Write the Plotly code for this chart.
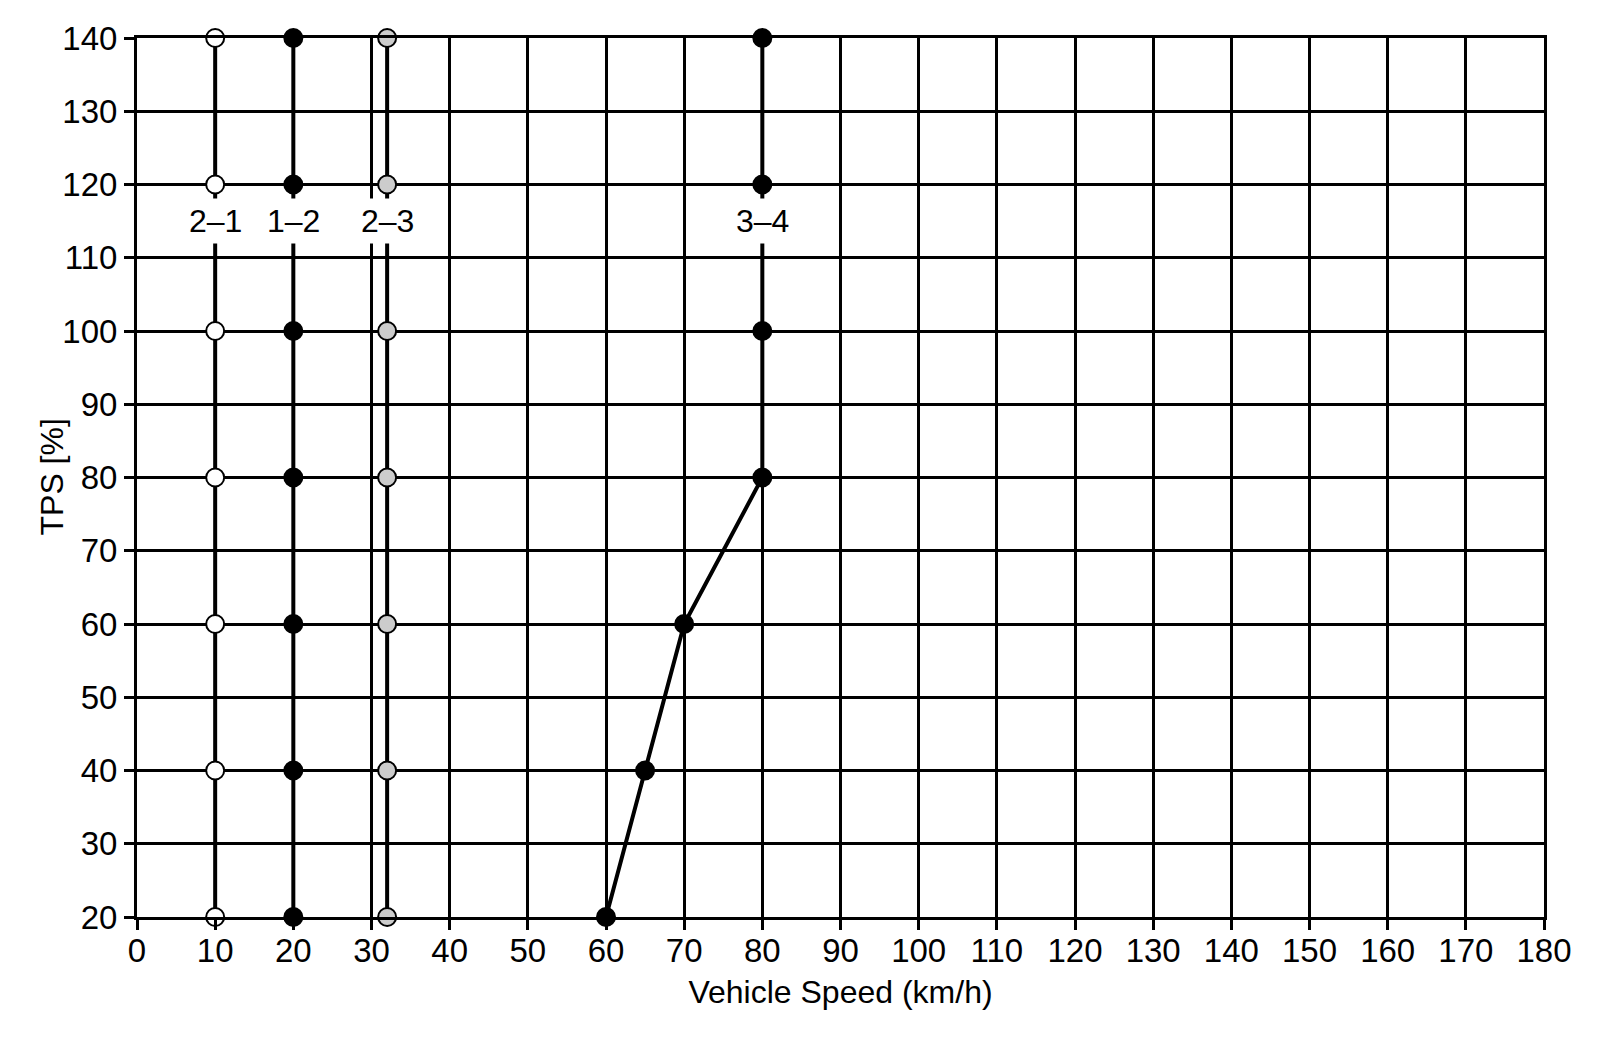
import plotly.graph_objects as go

# Data
tps = [20, 40, 60, 80, 100, 120, 140]
speed_21 = [10, 10, 10, 10, 10, 10, 10]
speed_12 = [20, 20, 20, 20, 20, 20, 20]
speed_23 = [32, 32, 32, 32, 32, 32, 32]
speed_34 = [60, 65, 70, 80, 80, 80, 80]

label_texts = ["2–1", "1–2", "2–3", "3–4"]
label_x = [10, 20, 32, 80]
label_y = [115, 115, 115, 115]

x_ticks = list(range(0, 181, 10))
y_ticks = list(range(20, 141, 10))

FONT = "Liberation Sans, Arial, Helvetica, sans-serif"

fig = go.Figure()

series = [
    (speed_21, "white"),
    (speed_12, "black"),
    (speed_23, "#cccccc"),
    (speed_34, "black"),
]
for xs, fill in series:
    fig.add_trace(go.Scatter(
        x=xs, y=tps, mode="lines+markers",
        line=dict(color="black", width=4),
        marker=dict(size=18, color=fill, line=dict(color="black", width=2)),
        showlegend=False, cliponaxis=False,
    ))

for t, lx, ly in zip(label_texts, label_x, label_y):
    fig.add_annotation(
        x=lx, y=ly, text=t, showarrow=False,
        font=dict(family=FONT, size=32, color="black"),
        bgcolor="white", borderpad=4,
    )

# y-axis title as rotated text next to the tick labels
fig.add_annotation(
    xref="paper", yref="paper", x=0, y=0.5, xanchor="center", yanchor="middle",
    xshift=-86, text="TPS [%]", textangle=-90, showarrow=False,
    font=dict(family=FONT, size=32, color="black"),
)

axis_common = dict(
    showgrid=True, gridcolor="black", gridwidth=3,
    showline=True, linecolor="black", linewidth=3, mirror=True,
    ticks="outside", ticklen=10, tickwidth=3, tickcolor="black",
    tickfont=dict(family=FONT, size=33, color="black"),
    zeroline=False,
)

fig.update_xaxes(
    range=[0, 180], tickvals=x_ticks, ticklabelstandoff=-8,
    title=dict(text="Vehicle Speed (km/h)", font=dict(family=FONT, size=32, color="black"), standoff=14),
    **axis_common,
)
fig.update_yaxes(
    range=[20, 140], tickvals=y_ticks,
    **axis_common,
)

fig.update_layout(
    width=1600, height=1048,
    margin=dict(l=129, r=64, t=28, b=139),
    plot_bgcolor="white", paper_bgcolor="white",
    font=dict(family=FONT, color="black"),
)

fig.write_html("out.html")
